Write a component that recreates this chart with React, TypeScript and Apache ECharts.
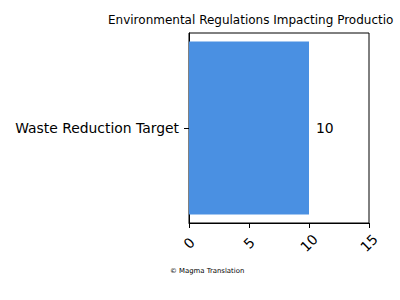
import React, { useEffect, useRef } from "react";
import * as echarts from "echarts";

const categories = ["Waste Reduction Target"];
const values = [10];
const xTicks = [0, 5, 10, 15];
const titleText = "Environmental Regulations Impacting Production";
const footerText = "© Magma Translation";

export default function App() {
  const ref = useRef<HTMLDivElement>(null);
  useEffect(() => {
    if (!ref.current) return;
    const chart = echarts.init(ref.current, undefined, { renderer: "svg" });
    chart.setOption({
      animation: false,
      backgroundColor: "#ffffff",
      textStyle: { fontFamily: "DejaVu Sans" },
      title: {
        text: titleText,
        left: 108,
        top: 14,
        padding: 0,
        textStyle: {
          fontSize: 12,
          fontWeight: "normal",
          color: "#000",
          fontFamily: "DejaVu Sans",
          width: 291,
          overflow: "truncate",
          ellipsis: "",
        },
      },
      graphic: [
        {
          type: "text",
          left: 170,
          top: 267,
          style: { text: footerText, fontSize: 6.9, fill: "#000", fontFamily: "DejaVu Sans" },
        },
      ],
      grid: {
        left: 189,
        right: 31,
        top: 33,
        bottom: 77,
        show: true,
        borderColor: "#000",
        borderWidth: 1,
        containLabel: false,
      },
      xAxis: {
        type: "value",
        min: xTicks[0],
        max: xTicks[xTicks.length - 1],
        interval: 5,
        splitLine: { show: false },
        axisLine: { show: true, lineStyle: { color: "#000", width: 1 } },
        axisTick: { show: true, length: 5, lineStyle: { color: "#000" } },
        axisLabel: {
          rotate: 45,
          align: "center",
          verticalAlign: "middle",
          margin: 20,
          fontSize: 13.9,
          color: "#000",
          fontFamily: "DejaVu Sans",
        },
      },
      yAxis: {
        type: "category",
        data: categories,
        axisLine: { show: true, lineStyle: { color: "#000", width: 1 } },
        axisTick: { show: true, length: 5, alignWithLabel: true, lineStyle: { color: "#000" } },
        axisLabel: { fontSize: 13.9, color: "#000", margin: 10, fontFamily: "DejaVu Sans" },
      },
      series: [
        {
          type: "bar",
          data: values,
          barWidth: "91%",
          itemStyle: { color: "#4A90E2" },
          label: {
            show: true,
            position: "right",
            distance: 7,
            fontSize: 13.9,
            color: "#000",
            fontFamily: "DejaVu Sans",
          },
        },
      ],
    });
    return () => chart.dispose();
  }, []);
  return (
    <div
      ref={ref}
      style={{ width: 400, height: 300, position: "absolute", left: 0, top: 0 }}
    />
  );
}
